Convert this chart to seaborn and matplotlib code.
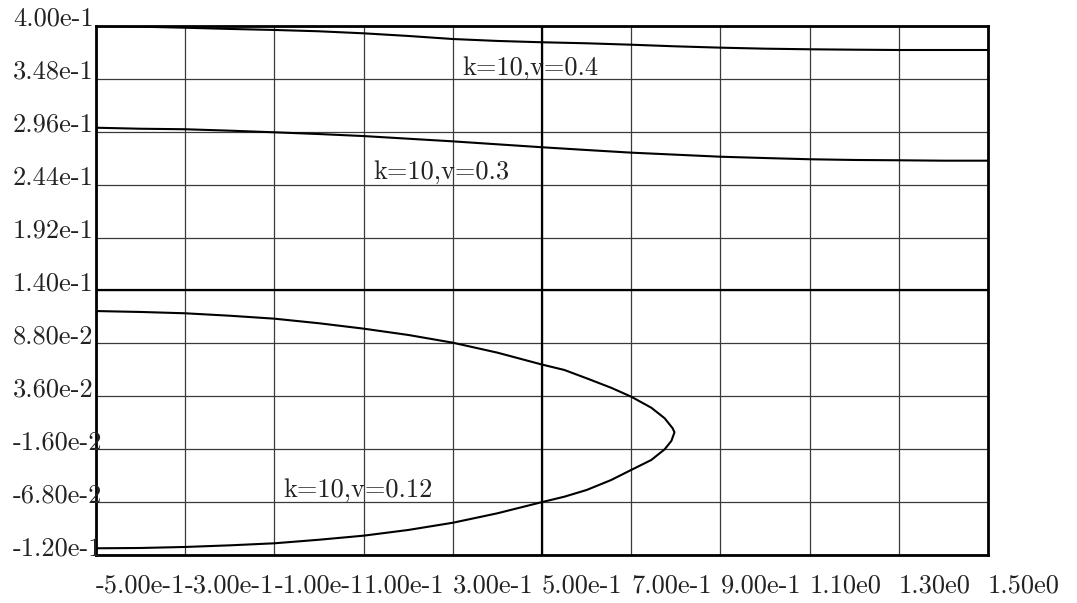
import matplotlib
matplotlib.use('Agg')
import matplotlib.pyplot as plt
import matplotlib.transforms as mtransforms
import seaborn as sns

# x positions where the two upper curves were read
x_vals = [-0.5, -0.4, -0.3, -0.2, -0.1, 0.0, 0.1, 0.2, 0.3, 0.4, 0.5,
          0.6, 0.7, 0.8, 0.9, 1.0, 1.1, 1.2, 1.3, 1.4, 1.5]
y_v04 = [0.4000, 0.3993, 0.3983, 0.3971, 0.3961, 0.3948, 0.3928, 0.3902, 0.3872, 0.3853, 0.3840,
         0.3830, 0.3816, 0.3800, 0.3787, 0.3777, 0.3771, 0.3767, 0.3764, 0.3764, 0.3764]
y_v03 = [0.3000, 0.2990, 0.2985, 0.2971, 0.2955, 0.2938, 0.2918, 0.2892, 0.2866, 0.2837, 0.2808,
         0.2781, 0.2755, 0.2735, 0.2715, 0.2702, 0.2690, 0.2683, 0.2680, 0.2676, 0.2676]

# curve for v=0.12 (upper branch -> tip -> lower branch)
x_v012 = [-0.5, -0.4, -0.3, -0.2, -0.1, 0.0, 0.1, 0.2, 0.3, 0.4, 0.5, 0.55, 0.6, 0.655, 0.7,
          0.745, 0.775, 0.793, 0.797,
          0.790, 0.775, 0.745, 0.7, 0.655, 0.6, 0.55, 0.5, 0.4, 0.3, 0.2, 0.1, 0.0,
          -0.1, -0.2, -0.3, -0.4, -0.5]
y_v012 = [0.1198, 0.1189, 0.1176, 0.1152, 0.1123, 0.1078, 0.1025, 0.0963, 0.0887, 0.0789, 0.0672,
          0.0619, 0.0537, 0.0444, 0.0356, 0.0248, 0.0144, 0.0045, 0.0006,
          -0.0079, -0.0161, -0.0266, -0.0364, -0.0463, -0.0561, -0.0627, -0.0680, -0.0790,
          -0.0883, -0.0954, -0.1010, -0.1050, -0.1085, -0.1105, -0.1121, -0.1131, -0.1134]

x_ticks = [-0.5, -0.3, -0.1, 0.1, 0.3, 0.5, 0.7, 0.9, 1.1, 1.3, 1.5]
x_labels = ['-5.00e-1', '-3.00e-1', '-1.00e-1', '1.00e-1', '3.00e-1', '5.00e-1',
            '7.00e-1', '9.00e-1', '1.10e0', '1.30e0', '1.50e0']
y_ticks = [0.4, 0.348, 0.296, 0.244, 0.192, 0.14, 0.088, 0.036, -0.016, -0.068, -0.12]
y_labels = ['4.00e-1', '3.48e-1', '2.96e-1', '2.44e-1', '1.92e-1', '1.40e-1',
            '8.80e-2', '3.60e-2', '-1.60e-2', '-6.80e-2', '-1.20e-1']

labels = ['k=10,v=0.4', 'k=10,v=0.3', 'k=10,v=0.12']
label_x = [0.322, 0.122, -0.080]
label_y = [0.3525, 0.2493, -0.0627]

sns.set_style('white')
plt.rcParams['font.family'] = ['cmr10', 'DejaVu Serif']
plt.rcParams['axes.formatter.use_mathtext'] = True

fig = plt.figure(figsize=(10.77, 6.03), dpi=100)
ax = fig.add_axes([0.0891, 0.0796, 0.8283, 0.8773])

ax.set_xlim(-0.5, 1.5)
ax.set_ylim(-0.12, 0.4)
ax.set_xticks(x_ticks)
ax.set_yticks(y_ticks)
ax.tick_params(length=0, labelbottom=False, labelleft=False)
ax.grid(True, color='#3a3a3a', lw=0.9)
for s in ax.spines.values():
    s.set_color('black')
    s.set_linewidth(2.0)

# centre lines
ax.axvline(0.5, color='black', lw=1.6, zorder=2)
ax.axhline(0.14, color='black', lw=1.6, zorder=2)

sns.lineplot(x=x_vals, y=y_v04, color='black', lw=1.5, ax=ax, zorder=3)
sns.lineplot(x=x_vals, y=y_v03, color='black', lw=1.5, ax=ax, zorder=3)
sns.lineplot(x=x_v012, y=y_v012, sort=False, estimator=None, color='black', lw=1.5, ax=ax, zorder=3)

for t, tx, ty in zip(labels, label_x, label_y):
    ax.text(tx, ty, t, fontsize=19, ha='left', va='baseline', color='#222222', zorder=4)

# tick labels placed by hand (left aligned on the ticks)
tr_x = mtransforms.blended_transform_factory(ax.transData, fig.transFigure)
for v, t in zip(x_ticks, x_labels):
    ax.text(v, 0.0166, t, transform=tr_x, fontsize=19, ha='left', va='baseline', color='#222222')
tr_y = mtransforms.blended_transform_factory(fig.transFigure, ax.transData)
for v, t in zip(y_ticks, y_labels):
    ax.text(0.012, v, t, transform=tr_y, fontsize=19, ha='left', va='baseline', color='#222222')

fig.savefig('out.png', dpi=100)
